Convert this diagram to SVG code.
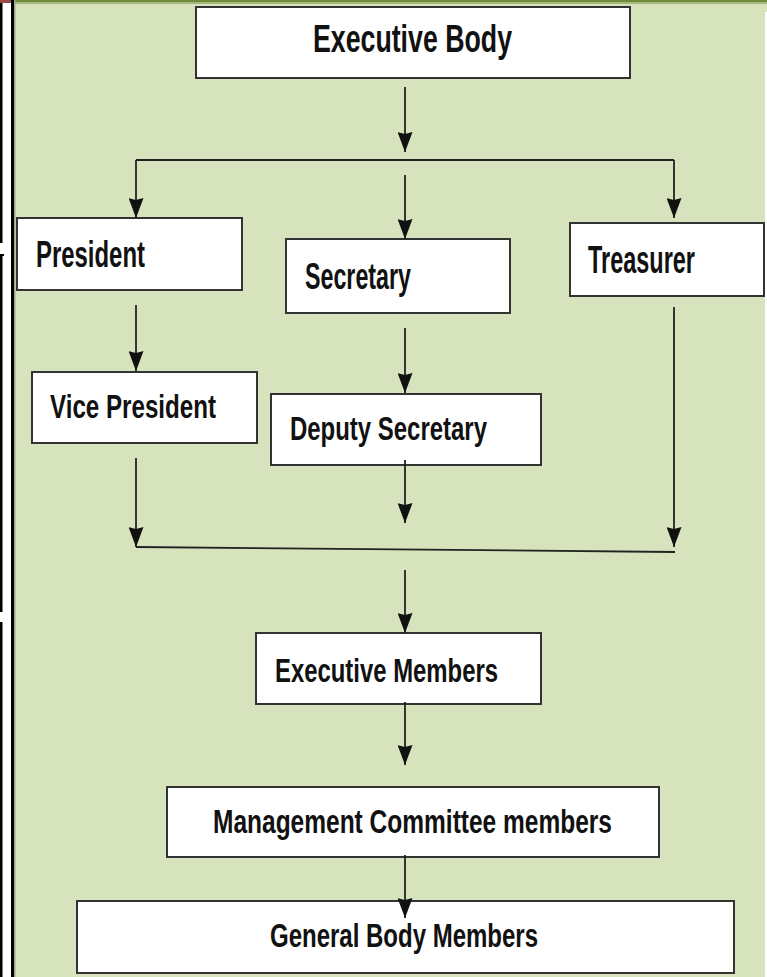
<svg xmlns="http://www.w3.org/2000/svg" width="767" height="977" viewBox="0 0 767 977">
  <style>
    .box { fill: #ffffff; stroke: #333333; stroke-width: 2; }
    .lbl { font-family: "Liberation Sans Narrow", "Liberation Sans", Arial, sans-serif; font-weight: bold; fill: #111111; }
    .wire { fill: none; stroke: #222222; stroke-width: 1.8; }
    .frame { fill: #000000; }
  </style>
  <defs>
    <marker id="arrow" markerUnits="userSpaceOnUse" markerWidth="20" markerHeight="15" refX="20" refY="7.5" orient="auto" viewBox="0 0 20 15">
      <path d="M0,0 L20,7.5 L0,15 L2,7.5 z" fill="#111111"/>
    </marker>
  </defs>

  <!-- background -->
  <rect x="0" y="0" width="767" height="977" fill="#d7e3bc"/>
  <rect x="0" y="0" width="767" height="2" fill="#6f8b3a"/>
  <rect x="0" y="2" width="767" height="2" fill="#a3b87a"/>
  <rect x="765" y="12" width="2" height="965" fill="#ffffff"/>

  <!-- left edge frame -->
  <g id="left-frame">
    <rect x="0" y="0" width="14" height="977" fill="#ffffff"/>
    <rect x="0" y="0" width="12" height="3" fill="#9a4a4a"/>
    <rect class="frame" x="0" y="3" width="2.5" height="240"/>
    <rect class="frame" x="0" y="254" width="2.5" height="358"/>
    <rect class="frame" x="0" y="254" width="4" height="2"/>
    <rect class="frame" x="0" y="622" width="2.5" height="355"/>
    <rect class="frame" x="11" y="0" width="3" height="977"/>
    <rect x="14" y="0" width="1.5" height="977" fill="#9aa88a"/>
  </g>

  <g id="executive-body">
    <rect class="box" x="196" y="7" width="434" height="71"/>
    <text class="lbl" x="313" y="52" font-size="39" textLength="199" lengthAdjust="spacingAndGlyphs">Executive Body</text>
  </g>

  <g id="president">
    <rect class="box" x="17" y="218" width="225" height="72"/>
    <text class="lbl" x="36" y="267" font-size="37" textLength="109" lengthAdjust="spacingAndGlyphs">President</text>
  </g>

  <g id="secretary">
    <rect class="box" x="286" y="239" width="224" height="74"/>
    <text class="lbl" x="305" y="289" font-size="37" textLength="106" lengthAdjust="spacingAndGlyphs">Secretary</text>
  </g>

  <g id="treasurer">
    <rect class="box" x="570" y="223" width="194" height="73"/>
    <text class="lbl" x="588" y="273" font-size="38" textLength="107" lengthAdjust="spacingAndGlyphs">Treasurer</text>
  </g>

  <g id="vice-president">
    <rect class="box" x="32" y="372" width="225" height="71"/>
    <text class="lbl" x="50" y="418" font-size="34" textLength="166" lengthAdjust="spacingAndGlyphs">Vice President</text>
  </g>

  <g id="deputy-secretary">
    <rect class="box" x="271" y="394" width="270" height="71"/>
    <text class="lbl" x="290" y="440" font-size="33" textLength="197" lengthAdjust="spacingAndGlyphs">Deputy Secretary</text>
  </g>

  <g id="executive-members">
    <rect class="box" x="256" y="633" width="285" height="71"/>
    <text class="lbl" x="275" y="682" font-size="33" textLength="223" lengthAdjust="spacingAndGlyphs">Executive Members</text>
  </g>

  <g id="management-committee">
    <rect class="box" x="167" y="787" width="492" height="70"/>
    <text class="lbl" x="213" y="833" font-size="34" textLength="399" lengthAdjust="spacingAndGlyphs">Management  Committee  members</text>
  </g>

  <g id="general-body">
    <rect class="box" x="77" y="901" width="657" height="72"/>
    <text class="lbl" x="270" y="947" font-size="34" textLength="268" lengthAdjust="spacingAndGlyphs">General Body Members</text>
  </g>

  <g id="connectors">
    <path class="wire" d="M405,87 V152" marker-end="url(#arrow)"/>
    <path class="wire" d="M136,160 H674"/>
    <path class="wire" d="M136,160 V218" marker-end="url(#arrow)"/>
    <path class="wire" d="M405,175 V239" marker-end="url(#arrow)"/>
    <path class="wire" d="M674,160 V218" marker-end="url(#arrow)"/>
    <path class="wire" d="M136,305 V371" marker-end="url(#arrow)"/>
    <path class="wire" d="M405,328 V393" marker-end="url(#arrow)"/>
    <path class="wire" d="M136,458 V547" marker-end="url(#arrow)"/>
    <path class="wire" d="M405,460 V523" marker-end="url(#arrow)"/>
    <path class="wire" d="M674,307 V547" marker-end="url(#arrow)"/>
    <path class="wire" d="M136,547 L675,552"/>
    <path class="wire" d="M405,570 V633" marker-end="url(#arrow)"/>
    <path class="wire" d="M405,702 V765" marker-end="url(#arrow)"/>
    <path class="wire" d="M405,855 V918" marker-end="url(#arrow)"/>
  </g>
</svg>
